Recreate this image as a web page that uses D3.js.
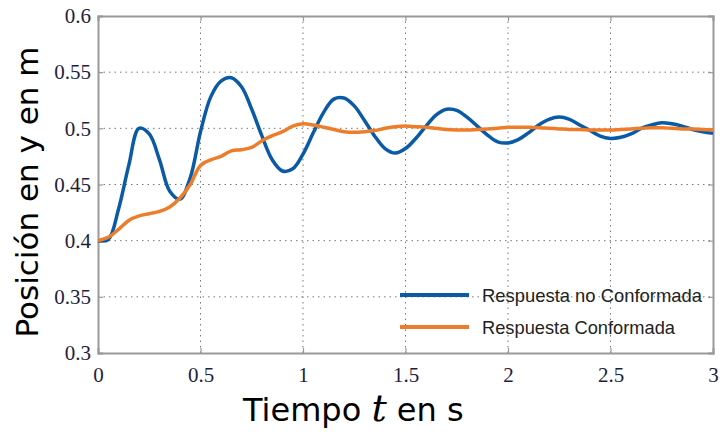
<!DOCTYPE html>
<html>
<head>
<meta charset="utf-8">
<script src="https://cdn.jsdelivr.net/npm/d3@7"></script>
<style>
  body { margin: 0; background: #fff; }
  svg { display: block; }
</style>
</head>
<body>
<div id="chart"></div>
<script>
// Sample times (s), one every 0.05 s
const times = [
  0.00, 0.05, 0.10, 0.15, 0.20, 0.25, 0.30, 0.35, 0.40, 0.45,
  0.50, 0.55, 0.60, 0.65, 0.70, 0.75, 0.80, 0.85, 0.90, 0.95,
  1.00, 1.05, 1.10, 1.15, 1.20, 1.25, 1.30, 1.35, 1.40, 1.45,
  1.50, 1.55, 1.60, 1.65, 1.70, 1.75, 1.80, 1.85, 1.90, 1.95,
  2.00, 2.05, 2.10, 2.15, 2.20, 2.25, 2.30, 2.35, 2.40, 2.45,
  2.50, 2.55, 2.60, 2.65, 2.70, 2.75, 2.80, 2.85, 2.90, 2.95,
  3.00
];

// "Respuesta no Conformada" (blue)
const noConformada = [
  0.400, 0.401, 0.428, 0.467, 0.500, 0.495, 0.472, 0.444, 0.437, 0.456,
  0.497, 0.528, 0.542, 0.545, 0.537, 0.517, 0.493, 0.472, 0.462, 0.464,
  0.477, 0.496, 0.514, 0.526, 0.527, 0.520, 0.507, 0.493, 0.482, 0.478,
  0.482, 0.491, 0.502, 0.512, 0.517, 0.516, 0.510, 0.502, 0.494, 0.488,
  0.487, 0.490, 0.496, 0.503, 0.508, 0.510, 0.508, 0.503, 0.498, 0.493,
  0.491, 0.492, 0.495, 0.500, 0.503, 0.505, 0.504, 0.502, 0.499, 0.497,
  0.4955
];

// "Respuesta Conformada" (orange)
const conformada = [
  0.400, 0.403, 0.410, 0.418, 0.422, 0.424, 0.426, 0.430, 0.438, 0.450,
  0.467, 0.472, 0.475, 0.480, 0.481, 0.483, 0.489, 0.4935, 0.497, 0.502,
  0.504, 0.503, 0.501, 0.499, 0.497, 0.4965, 0.497, 0.498, 0.500, 0.5015,
  0.502, 0.5015, 0.501, 0.500, 0.499, 0.4985, 0.4985, 0.499, 0.4995, 0.500,
  0.501, 0.501, 0.501, 0.5005, 0.500, 0.4995, 0.499, 0.499, 0.4985, 0.4985,
  0.4985, 0.499, 0.4995, 0.500, 0.5005, 0.5005, 0.500, 0.4995, 0.4995, 0.499,
  0.4985
];

const xTicks = [0, 0.5, 1, 1.5, 2, 2.5, 3];
const xTickLabels = ["0", "0.5", "1", "1.5", "2", "2.5", "3"];
const yTicks = [0.3, 0.35, 0.4, 0.45, 0.5, 0.55, 0.6];
const yTickLabels = ["0.3", "0.35", "0.4", "0.45", "0.5", "0.55", "0.6"];

const seriesNames = ["Respuesta no Conformada", "Respuesta Conformada"];
const seriesColors = ["#0b5aa5", "#ee7d2b"];

const width = 720, height = 432;
const margin = { left: 98, right: 7, top: 16, bottom: 79 };

const svg = d3.select("#chart")
  .append("svg")
  .attr("width", width)
  .attr("height", height);

const x = d3.scaleLinear().domain([0, 3]).range([margin.left, width - margin.right]);
const y = d3.scaleLinear().domain([0.3, 0.6]).range([height - margin.bottom, margin.top]);

// Dotted grid
svg.append("g")
  .selectAll("line")
  .data(xTicks.slice(1, -1))
  .join("line")
  .attr("x1", d => x(d)).attr("x2", d => x(d))
  .attr("y1", y(0.3)).attr("y2", y(0.6))
  .attr("stroke", "#777")
  .attr("stroke-width", 1)
  .attr("stroke-dasharray", "1.5,4");

svg.append("g")
  .selectAll("line")
  .data(yTicks.slice(1, -1))
  .join("line")
  .attr("x1", x(0)).attr("x2", x(3))
  .attr("y1", d => y(d)).attr("y2", d => y(d))
  .attr("stroke", "#777")
  .attr("stroke-width", 1)
  .attr("stroke-dasharray", "1.5,4");

// Axes with inward ticks
const tickFont = "'Liberation Serif', 'Times New Roman', serif";

svg.append("g")
  .attr("transform", `translate(0,${y(0.3)})`)
  .call(d3.axisBottom(x).tickValues(xTicks).tickSize(-5).tickPadding(14)
    .tickFormat((d, i) => xTickLabels[i]));

svg.append("g")
  .attr("transform", `translate(${x(0)},0)`)
  .call(d3.axisLeft(y).tickValues(yTicks).tickSize(-5).tickPadding(7)
    .tickFormat((d, i) => yTickLabels[i]));

svg.append("g")
  .attr("transform", `translate(${x(3)},0)`)
  .call(d3.axisRight(y).tickValues(yTicks).tickSize(-5).tickFormat(""));

svg.append("g")
  .attr("transform", `translate(0,${y(0.6)})`)
  .call(d3.axisTop(x).tickValues(xTicks).tickSize(-5).tickFormat(""));

svg.selectAll(".domain").attr("stroke", "#999").attr("stroke-width", 2);
svg.selectAll(".tick line").attr("stroke", "#999").attr("stroke-width", 1.2);
svg.selectAll(".tick text")
  .attr("fill", "#1e1e3c")
  .style("font-family", tickFont)
  .style("font-size", "21px");

// Lines
const line = d3.line()
  .x((d, i) => x(times[i]))
  .y(d => y(d))
  .curve(d3.curveCatmullRom.alpha(0.5));

[noConformada, conformada].forEach((series, i) => {
  svg.append("path")
    .datum(series)
    .attr("fill", "none")
    .attr("stroke", seriesColors[i])
    .attr("stroke-width", 3.5)
    .attr("stroke-linejoin", "round")
    .attr("d", line);
});

// Legend
const legendWidths = [220, 193];
const legend = svg.append("g").attr("transform", "translate(400,295)");
seriesNames.forEach((name, i) => {
  const g = legend.append("g").attr("transform", `translate(0,${i * 32})`);
  g.append("line")
    .attr("x1", 0).attr("x2", 69)
    .attr("stroke", seriesColors[i])
    .attr("stroke-width", 4);
  g.append("text")
    .attr("x", 82)
    .attr("y", 7)
    .attr("fill", "#222")
    .attr("textLength", legendWidths[i])
    .attr("lengthAdjust", "spacingAndGlyphs")
    .style("font-family", "'Liberation Sans Narrow', 'Liberation Sans', Arial, sans-serif")
    .style("font-size", "19px")
    .text(name);
});

// Axis titles
const xTitle = svg.append("text")
  .attr("x", 243)
  .attr("y", 421)
  .attr("fill", "#000")
  .style("font-family", "'DejaVu Sans', Verdana, sans-serif")
  .style("font-size", "32px");
xTitle.append("tspan").text("Tiempo ");
xTitle.append("tspan")
  .style("font-family", "'DejaVu Serif', 'Liberation Serif', serif")
  .style("font-style", "italic")
  .style("font-size", "38px")
  .text("t");
xTitle.append("tspan").text(" en s");

svg.append("text")
  .attr("transform", "translate(38,192) rotate(-90)")
  .attr("text-anchor", "middle")
  .attr("fill", "#000")
  .style("font-family", "'DejaVu Sans', Verdana, sans-serif")
  .style("font-size", "31px")
  .text("Posición en y en m");
</script>
</body>
</html>
